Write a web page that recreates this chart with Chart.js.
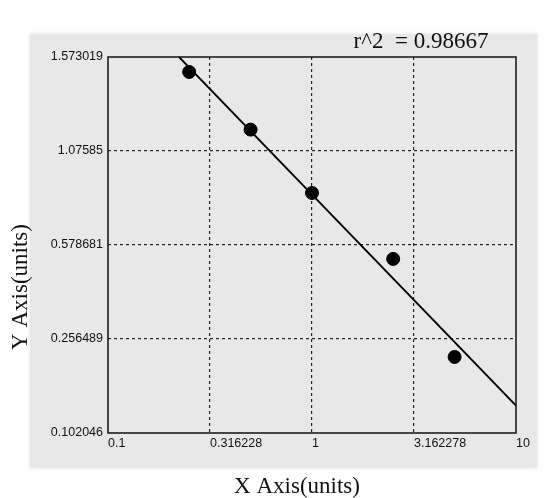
<!DOCTYPE html>
<html><head><meta charset="utf-8">
<script src="https://cdn.jsdelivr.net/npm/chart.js@4/dist/chart.umd.min.js"></script>
<style>html,body{margin:0;padding:0;background:#fff;}#wrap{width:547px;height:498px;}</style>
</head><body><div id="wrap"><canvas id="c" width="547" height="498"></canvas></div>
<script>
const xConc = [0.25, 0.5, 1, 2.5, 5];
const yResp = [1.494, 1.189, 0.854, 0.531, 0.227];
const fitX = [0.223, 10];
const fitY = [1.573019, 0.147];
const xTickValues = [0.1, 0.316228, 1, 3.162278, 10];
const xTickLabels = ['0.1', '0.316228', '1', '3.162278', '10'];
const yTickValues = [0.102046, 0.256489, 0.578681, 1.07585, 1.573019];
const yTickLabels = ['0.102046', '0.256489', '0.578681', '1.07585', '1.573019'];
const xTitle = 'X Axis(units)';
const yTitle = 'Y Axis(units)';
const r2Text = 'r^2  = 0.98667';

function yPos(v){
  for (let i = 0; i < yTickValues.length - 1; i++) {
    const a = yTickValues[i], b = yTickValues[i+1];
    if (v <= b || i === yTickValues.length - 2) return i + (v - a) / (b - a);
  }
}

const bgPlugin = {
  id: 'bg',
  beforeDraw(chart){
    const ctx = chart.ctx;
    ctx.save();
    ctx.fillStyle = '#ffffff';
    ctx.fillRect(0,0,chart.width,chart.height);
    ctx.shadowColor = 'rgba(0,0,0,0.12)';
    ctx.shadowBlur = 4;
    ctx.fillStyle = '#e8e8e8';
    ctx.fillRect(30,34,507,434);
    ctx.restore();
  },
  afterDraw(chart){
    const ctx = chart.ctx, a = chart.chartArea;
    ctx.save();
    ctx.strokeStyle = '#111';
    ctx.lineWidth = 1.5;
    ctx.strokeRect(a.left, a.top, a.right - a.left, a.bottom - a.top);
    ctx.fillStyle = '#111';
    ctx.font = '23px "Liberation Serif", serif';
    ctx.textAlign = 'center';
    ctx.textBaseline = 'middle';
    ctx.fillText(xTitle, 297, 487);
    ctx.save();
    ctx.translate(21, 287);
    ctx.rotate(-Math.PI/2);
    ctx.fillText(yTitle, 0, 0);
    ctx.restore();
    ctx.font = '23px "Liberation Serif", serif';
    ctx.fillText(r2Text, 421, 42);
    ctx.restore();
  }
};

const gridColor = (ctx) => {
  const n = ctx.scale.ticks.length;
  return (ctx.index === 0 || ctx.index === n - 1) ? 'rgba(0,0,0,0)' : '#222';
};

new Chart(document.getElementById('c'), {
  type: 'scatter',
  data: {
    datasets: [
      {
        data: xConc.map((x,i) => ({x, y: yPos(yResp[i])})),
        backgroundColor: '#000', borderColor: '#000',
        pointRadius: 6.5, pointHoverRadius: 6.5, showLine: false, order: 1
      },
      {
        data: fitX.map((x,i) => ({x, y: yPos(fitY[i])})),
        showLine: true, borderColor: '#000', borderWidth: 1.8,
        pointRadius: 0, fill: false, order: 2
      }
    ]
  },
  options: {
    responsive: false, animation: false,
    layout: { padding: { left: 0, top: 57, right: 31, bottom: 0 } },
    plugins: { legend: { display: false }, tooltip: { enabled: false } },
    scales: {
      x: {
        type: 'logarithmic', min: 0.1, max: 10,
        afterBuildTicks: (s) => { s.ticks = xTickValues.map(v => ({ value: v })); },
        afterFit: (s) => { s.height = 65; },
        grid: { color: gridColor, lineWidth: 1.2, drawTicks: false },
        border: { display: false, dash: [3,3] },
        ticks: {
          callback: (v, i) => xTickLabels[i],
          align: 'start', padding: 3, maxRotation: 0, autoSkip: false,
          color: '#111', font: { family: '"Liberation Sans", Arial, sans-serif', size: 12.5 }
        }
      },
      y: {
        type: 'linear', min: 0, max: 4,
        afterBuildTicks: (s) => { s.ticks = yTickValues.map((v,i) => ({ value: i })); },
        afterFit: (s) => { s.width = 108; },
        grid: { color: gridColor, lineWidth: 1.2, drawTicks: false },
        border: { display: false, dash: [3,3] },
        ticks: {
          callback: (v, i) => yTickLabels[i],
          padding: 5, autoSkip: false,
          color: '#111', font: { family: '"Liberation Sans", Arial, sans-serif', size: 12.5 }
        }
      }
    }
  },
  plugins: [bgPlugin]
});
</script></body></html>
